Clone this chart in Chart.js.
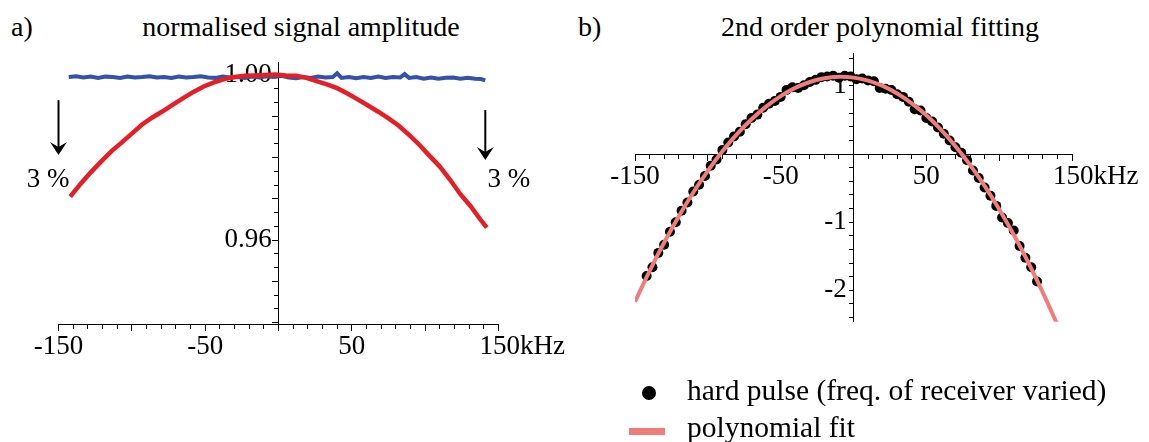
<!DOCTYPE html>
<html>
<head>
<meta charset="utf-8">
<title>signal amplitude / polynomial fitting</title>
<script src="https://cdn.jsdelivr.net/npm/chart.js@4"></script>
<style>
  body { margin: 0; background: #fff; width: 1149px; height: 442px; position: relative; overflow: hidden;
         font-family: "Liberation Serif", "Times New Roman", serif; color: #000; }
  canvas { position: absolute; top: 0; }
  .txt { position: absolute; font-size: 28px; line-height: 28px; white-space: nowrap; }
  .title { transform: translateX(-50%); }
  .key { font-size: 29.5px; line-height: 29.5px; }
  .dot { position: absolute; width: 14px; height: 14px; border-radius: 50%; background: #000; }
  .bar { position: absolute; height: 7px; background: #f07c7c; }
</style>
</head>
<body>
<div class="txt" style="left:11px; top:12.5px">a)</div>
<div class="txt title" style="left:301px; top:12.5px">normalised signal amplitude</div>
<div class="txt" style="left:578px; top:12.5px">b)</div>
<div class="txt title" style="left:880px; top:12.5px">2nd order polynomial fitting</div>

<canvas id="ampChart" width="580" height="442" style="left:0"></canvas>
<canvas id="fitChart" width="569" height="442" style="left:580px"></canvas>

<div class="dot" style="left:642px; top:386px"></div>
<div class="txt key" style="left:687px; top:376px">hard pulse (freq. of receiver varied)</div>
<div class="bar" style="left:629px; top:428px; width:36px"></div>
<div class="txt key" style="left:687px; top:413px">polynomial fit</div>

<script>
// ---- panel a: normalised amplitude (kHz offset) ----
const offsetsRed = [-142, -135, -128, -121, -114, -107, -100, -93, -86, -79,
  -72, -65, -58, -51, -44, -37, -30, -23, -16, -9,
  -2, 5, 12, 19, 26, 33, 40, 47, 54, 61,
  68, 75, 82, 89, 96, 103, 110, 117, 124, 131,
  138, 142];
const amplitudeRed = [0.9705, 0.9736, 0.9764, 0.9790, 0.9815, 0.9836, 0.9858, 0.9880, 0.9897, 0.9912,
  0.9928, 0.9944, 0.9959, 0.9972, 0.9982, 0.9990, 0.9995, 0.9998, 0.9999, 1.0000,
  1.0001, 0.9999, 0.9998, 0.9993, 0.9985, 0.9977, 0.9968, 0.9955, 0.9941, 0.9926,
  0.9911, 0.9895, 0.9877, 0.9855, 0.9831, 0.9804, 0.9778, 0.9746, 0.9711, 0.9682,
  0.9648, 0.9630];

const offsetsBlue = [-143, -138, -133, -128, -123, -118, -113, -108, -103, -98,
  -93, -88, -83, -78, -73, -68, -63, -58, -53, -48,
  -43, -38, -33, -28, -23, -18, -13, -8, -3, 2,
  7, 12, 17, 22, 27, 32, 37, 40, 43, 48,
  53, 58, 63, 68, 73, 78, 83, 86, 89, 94,
  99, 104, 109, 114, 119, 124, 129, 134, 138, 141];
const amplitudeBlue = [0.9995, 0.9997, 0.9994, 0.9996, 0.9993, 0.9996, 0.9995, 0.9993, 0.9996, 0.9994,
  0.9995, 0.9997, 0.9994, 0.9995, 0.9993, 0.9996, 0.9994, 0.9995, 0.9997, 0.9994,
  0.9993, 0.9996, 0.9994, 0.9995, 0.9993, 0.9996, 0.9994, 0.9997, 0.9995, 0.9998,
  0.9994, 0.9992, 0.9995, 0.9993, 0.9996, 0.9994, 0.9995, 1.0004, 0.9993, 0.9995,
  0.9992, 0.9995, 0.9993, 0.9996, 0.9993, 0.9995, 0.9994, 1.0002, 0.9993, 0.9995,
  0.9991, 0.9994, 0.9991, 0.9993, 0.9994, 0.9991, 0.9993, 0.9991, 0.9990, 0.9987];

// ---- panel b: measured points and the quadratic fit ----
const offsetsPulse = [-142, -138, -134, -130, -126, -122, -118, -114, -110, -106,
  -102, -98, -94, -90, -86, -82, -78, -74, -70, -66,
  -62, -58, -54, -50, -46, -42, -38, -34, -30, -26,
  -22, -18, -14, -10, -6, -2, 2, 6, 10, 14,
  18, 22, 26, 30, 34, 38, 42, 46, 50, 54,
  58, 62, 66, 70, 74, 78, 82, 86, 90, 94,
  98, 102, 106, 110, 114, 118, 122, 126];
const valuesPulse = [-1.79, -1.66, -1.45, -1.33, -1.14, -1.00, -0.83, -0.71, -0.55, -0.45,
  -0.32, -0.17, -0.08, 0.06, 0.17, 0.26, 0.33, 0.44, 0.53, 0.58,
  0.68, 0.74, 0.78, 0.84, 0.94, 0.98, 0.97, 1.01, 1.06, 1.09,
  1.13, 1.14, 1.15, 1.12, 1.15, 1.14, 1.10, 1.11, 1.08, 1.07,
  0.97, 0.96, 0.94, 0.88, 0.84, 0.77, 0.66, 0.64, 0.53, 0.48,
  0.39, 0.30, 0.20, 0.10, 0.02, -0.09, -0.24, -0.35, -0.49, -0.61,
  -0.76, -0.93, -1.01, -1.12, -1.35, -1.52, -1.66, -1.87];

const offsetsFit = [-150, -140, -130, -120, -110, -100, -90, -80, -70, -60,
  -50, -40, -30, -20, -10, 0, 10, 20, 30, 40,
  50, 60, 70, 80, 90, 100, 110, 120, 130, 140];
const valuesFit = [-2.166, -1.716, -1.298, -0.914, -0.563, -0.245, 0.041, 0.293, 0.512, 0.698,
  0.852, 0.972, 1.059, 1.114, 1.135, 1.123, 1.079, 1.001, 0.890, 0.746,
  0.570, 0.360, 0.117, -0.158, -0.467, -0.809, -1.184, -1.591, -2.032, -2.506];

// tick labels
const freqTickValues = [-150, -50, 50, 150];
const freqTickLabels = ['-150', '-50', '50', '150kHz'];
const ampTickValues = [1.00, 0.96];
const ampTickLabels = ['1.00', '0.96'];
const fitTickValues = [1, -1, -2];
const fitTickLabels = ['1', '-1', '-2'];

// 3 % drop markers in panel a
const dropArrows = [{ x: -150, from: 0.9939, to: 0.9806 }, { x: 141, from: 0.9915, to: 0.9794 }];
const dropLabels = [{ x: -157, y: 0.9729, text: '3 %' }, { x: 157, y: 0.9729, text: '3 %' }];

const SERIF = '"Liberation Serif", "Times New Roman", serif';
Chart.defaults.font.family = SERIF;
Chart.defaults.font.size = 27;
Chart.defaults.color = '#000';

const pairs = (xs, ys) => xs.map((x, i) => ({ x: x, y: ys[i] }));

// tick positions from lo to hi, counted in whole steps
function stepTicks(lo, hi, step) {
  const out = [];
  const n = Math.round((hi - lo) / step);
  for (let i = 0; i <= n; i++) out.push({ value: lo + i * step });
  return out;
}

function labelFrom(values, labels, gap) {
  return function (v) {
    const i = values.findIndex(t => Math.abs(t - v) < 1e-6);
    if (i < 0) return '';
    const s = labels[i];
    // keep the number centred on its tick when the unit is appended
    if (s.endsWith('kHz')) return ' '.repeat(7) + s;
    return gap ? s + ' ' : s;
  };
}

function axisX(posY) {
  return {
    type: 'linear', min: -150, max: 150,
    position: { y: posY },
    afterBuildTicks: ax => { ax.ticks = stepTicks(-150, 150, 10); },
    grid: { drawOnChartArea: false, tickLength: 4, tickColor: '#000', tickWidth: 1 },
    border: { display: true, color: '#000', width: 1 },
    ticks: { autoSkip: false, maxRotation: 0, minRotation: 0, padding: 3,
             callback: labelFrom(freqTickValues, freqTickLabels, false) }
  };
}

function majorX(posY) {
  return {
    type: 'linear', min: -150, max: 150,
    position: { y: posY },
    afterBuildTicks: ax => { ax.ticks = stepTicks(-150, 150, 50); },
    grid: { drawOnChartArea: false, tickLength: 7, tickColor: '#000', tickWidth: 1 },
    border: { display: false },
    ticks: { display: false }
  };
}

const dropMarks = {
  id: 'dropMarks',
  afterDraw(chart) {
    const { ctx } = chart;
    const x = chart.scales.x, y = chart.scales.y;
    ctx.save();
    ctx.strokeStyle = '#000';
    ctx.fillStyle = '#000';
    ctx.lineWidth = 2;
    dropArrows.forEach(a => {
      const px = x.getPixelForValue(a.x);
      const y0 = y.getPixelForValue(a.from);
      const y1 = y.getPixelForValue(a.to);
      ctx.beginPath();
      ctx.moveTo(px, y0);
      ctx.lineTo(px, y1 - 8);
      ctx.stroke();
      ctx.beginPath();
      ctx.moveTo(px, y1);
      ctx.lineTo(px - 8.5, y1 - 13);
      ctx.lineTo(px, y1 - 8);
      ctx.lineTo(px + 8.5, y1 - 13);
      ctx.closePath();
      ctx.fill();
    });
    ctx.font = '27px ' + SERIF;
    ctx.textAlign = 'center';
    ctx.textBaseline = 'alphabetic';
    dropLabels.forEach(l => {
      ctx.fillText(l.text, x.getPixelForValue(l.x), y.getPixelForValue(l.y));
    });
    ctx.restore();
  }
};

const AMP_MIN = 0.9396, AMP_MAX = 1.003;

new Chart(document.getElementById('ampChart'), {
  type: 'line',
  data: {
    datasets: [
      { data: pairs(offsetsRed, amplitudeRed), borderColor: '#e81e27', borderWidth: 4.5,
        pointRadius: 0, tension: 0 },
      { data: pairs(offsetsBlue, amplitudeBlue), borderColor: '#3452a8', borderWidth: 4,
        pointRadius: 0, tension: 0 }
    ]
  },
  options: {
    responsive: false,
    animation: false,
    layout: { padding: { left: 58.5, right: 81.5, top: 62.6, bottom: 117.8 } },
    plugins: { legend: { display: false }, tooltip: { enabled: false } },
    scales: {
      x: axisX(AMP_MIN),
      xMajor: majorX(AMP_MIN),
      y: {
        type: 'linear', min: AMP_MIN, max: AMP_MAX,
        position: { x: 0 }, z: 1,
        afterBuildTicks: ax => { ax.ticks = stepTicks(0.94, 1.0, 0.01 / 3); },
        grid: { drawOnChartArea: false, tickLength: 4, tickColor: '#000', tickWidth: 1 },
        border: { display: true, color: '#000', width: 1 },
        ticks: { autoSkip: false, padding: 3, callback: labelFrom(ampTickValues, ampTickLabels, true) }
      },
      yMajor: {
        type: 'linear', min: AMP_MIN, max: AMP_MAX,
        position: { x: 0 },
        afterBuildTicks: ax => { ax.ticks = stepTicks(0.94, 1.0, 0.01); },
        grid: { drawOnChartArea: false, tickLength: 7, tickColor: '#000', tickWidth: 1 },
        border: { display: false },
        ticks: { display: false }
      }
    }
  },
  plugins: [dropMarks]
});

new Chart(document.getElementById('fitChart'), {
  type: 'scatter',
  data: {
    datasets: [
      { label: 'polynomial fit', data: pairs(offsetsFit, valuesFit), showLine: true,
        borderColor: '#f07c7c', borderWidth: 4, pointRadius: 0, tension: 0.4 },
      { label: 'hard pulse (freq. of receiver varied)', data: pairs(offsetsPulse, valuesPulse),
        pointRadius: 5, pointBackgroundColor: '#000', pointBorderWidth: 0 }
    ]
  },
  options: {
    responsive: false,
    animation: false,
    layout: { padding: { left: 55, right: 77, top: 53.3, bottom: 120.3 } },
    plugins: { legend: { display: false }, tooltip: { enabled: false } },
    scales: {
      x: axisX(0),
      xMajor: majorX(0),
      y: {
        type: 'linear', min: -2.46, max: 1.48,
        position: { x: 0 }, z: 1,
        afterBuildTicks: ax => { ax.ticks = stepTicks(-2.4, 1.4, 0.2); },
        grid: { drawOnChartArea: false, tickLength: 4, tickColor: '#000', tickWidth: 1 },
        border: { display: true, color: '#000', width: 1 },
        ticks: { autoSkip: false, padding: 3, callback: labelFrom(fitTickValues, fitTickLabels, true) }
      }
    }
  }
});
</script>
</body>
</html>
